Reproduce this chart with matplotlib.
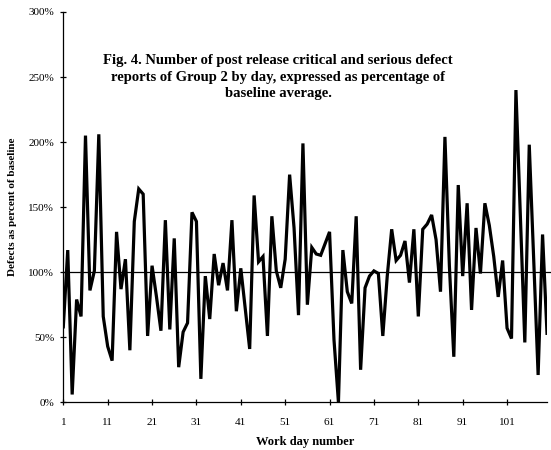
import numpy as np
import matplotlib
matplotlib.use('Agg')
from matplotlib import pyplot as plt
from matplotlib.ticker import FuncFormatter

plt.rcParams['font.family'] = ['Liberation Serif', 'DejaVu Serif']

# defect reports per work day, percent of baseline average
dias = np.arange(1, 111)
defectos = [58, 117, 6, 79, 66, 205, 86, 101, 206, 66,
            43, 32, 131, 87, 110, 40, 139, 164, 160, 51,
            105, 81, 55, 140, 56, 126, 27, 54, 61, 146,
            139, 18, 97, 64, 114, 90, 107, 86, 140, 70,
            103, 72, 41, 159, 108, 112, 51, 143, 101, 88,
            110, 175, 134, 67, 199, 75, 119, 114, 113, 122,
            131, 48, 0, 117, 85, 76, 143, 25, 88, 97,
            101, 99, 51, 97, 133, 109, 113, 124, 92, 133,
            66, 133, 137, 144, 125, 85, 204, 105, 35, 167,
            97, 153, 71, 134, 99, 153, 136, 112, 81, 109,
            57, 49, 240, 143, 46, 198, 110, 21, 129, 53]
baseline = 100
xticks = [1, 11, 21, 31, 41, 51, 61, 71, 81, 91, 101]
yticks = [0, 50, 100, 150, 200, 250, 300]

titulo = ('Fig. 4. Number of post release critical and serious defect\n'
          'reports of Group 2 by day, expressed as percentage of\n'
          'baseline average.')

fig = plt.figure(figsize=(5.51, 4.5), dpi=100)
ax = fig.add_axes([63.3/551, 47.7/450, (547-63.3)/551, 390.3/450])

ax.plot(dias, defectos, color='black', lw=2.3, solid_joinstyle='miter', zorder=3)
ax.axhline(baseline, xmin=0, xmax=1.01, color='black', lw=0.9, clip_on=False, zorder=2)

ax.set_xlim(1, 110)
ax.set_ylim(0, 300)
ax.set_xticks(xticks)
ax.set_yticks(yticks)
ax.yaxis.set_major_formatter(FuncFormatter(lambda v, p: '%d%%' % v))

for lado in ['top', 'right']:
    ax.spines[lado].set_visible(False)
for lado in ['left', 'bottom']:
    ax.spines[lado].set_linewidth(0.9)
ax.tick_params(axis='both', direction='inout', length=5, width=0.9, labelsize=8, colors='black')
ax.tick_params(axis='x', pad=9)
ax.tick_params(axis='y', pad=4)

ax.set_xlabel('Work day number', fontsize=9, fontweight='bold', labelpad=6)
ax.set_ylabel('Defects as percent of baseline', fontsize=8, fontweight='bold', labelpad=8)

ax.text(0.444, 0.833, titulo, transform=ax.transAxes, ha='center', va='center',
        fontsize=10.5, fontweight='bold', linespacing=1.32)

plt.savefig('out.png', dpi=100)
